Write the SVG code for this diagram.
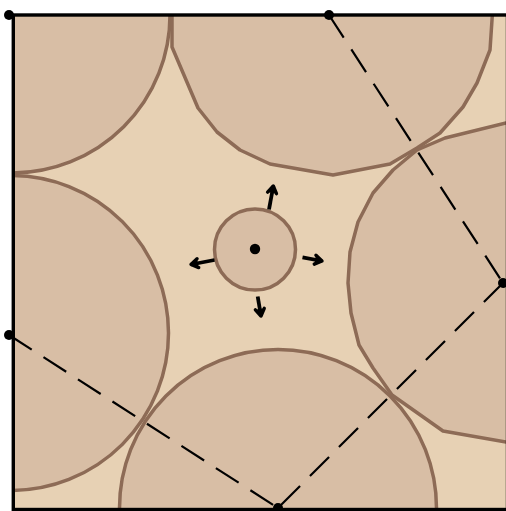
<svg xmlns="http://www.w3.org/2000/svg" width="506" height="511" viewBox="0 0 506 511">
<defs>
<style>
.bg{fill:#E7D1B4;}
.shape{fill:#D8BEA5;stroke:#8D6B56;stroke-width:3.5;stroke-linejoin:round;}
.frame{fill:none;stroke:#000;stroke-width:3.4;}
.dash{fill:none;stroke:#000;stroke-width:2.2;stroke-dasharray:27 14;}
.arrow{fill:none;stroke:#000;stroke-width:3.8;stroke-linecap:butt;}
.dot{fill:#000;}
</style>
<clipPath id="clipFrame"><rect x="13.3" y="15" width="494.2" height="494.5"/></clipPath>
<marker id="ah" viewBox="0 0 14 14" refX="10" refY="7" markerWidth="14" markerHeight="14" markerUnits="userSpaceOnUse" orient="auto">
<path d="M3,2.5 L10,7 L3,11.5" fill="#000" stroke="#000" stroke-width="3.4" stroke-linejoin="round" stroke-linecap="round"/>
</marker>
</defs>
<rect width="506" height="511" fill="#fff"/>
<rect class="bg" x="13.3" y="15" width="494.2" height="494.5"/>
<g clip-path="url(#clipFrame)">
<g id="circle-top-left"><circle class="shape" cx="12" cy="15" r="158"/></g>
<g id="circle-left"><circle class="shape" cx="11" cy="333" r="157.5"/></g>
<g id="circle-bottom"><circle class="shape" cx="278" cy="508" r="158.5"/></g>
<g id="poly-top"><path class="shape" d="M172,5 L172,47 L198,108 L217,132 L240,150 L270,164 L333,175 L390,164 L417,148 L440,133 L463,107 L477,83 L490,50 L493,5 Z"/></g>
<g id="poly-right"><path class="shape" d="M515,121 L506,123 L445,138 L417,150 L393,170 L373,193 L358,222 L350,252 L348,283 L351,313 L359,345 L373,368 L392,395 L443,431 L506,442 L515,444 Z"/></g>
</g>
<g id="center-node">
<circle class="shape" cx="255" cy="249.5" r="40.5"/>
<circle class="dot" cx="255" cy="249" r="5.2"/>
</g>
<g id="connectors">
<path class="dash" d="M329,15 L503,283"/>
<path class="dash" d="M503,283 L278,508"/>
<path class="dash" d="M9,335 L278,508"/>
<line class="arrow" x1="269" y1="209.5" x2="273.3" y2="186" marker-end="url(#ah)"/>
<line class="arrow" x1="302.5" y1="257.3" x2="322" y2="261" marker-end="url(#ah)"/>
<line class="arrow" x1="257.7" y1="296.5" x2="261" y2="316" marker-end="url(#ah)"/>
<line class="arrow" x1="214.5" y1="260" x2="191" y2="264.5" marker-end="url(#ah)"/>
</g>
<g id="frame"><rect class="frame" x="13.3" y="15" width="494.2" height="494.5"/></g>
<g id="points">
<circle class="dot" cx="9" cy="15" r="5"/>
<circle class="dot" cx="329" cy="15" r="5"/>
<circle class="dot" cx="503" cy="283" r="5"/>
<circle class="dot" cx="9" cy="335" r="5"/>
<circle class="dot" cx="278" cy="508" r="5"/>
</g>
</svg>
